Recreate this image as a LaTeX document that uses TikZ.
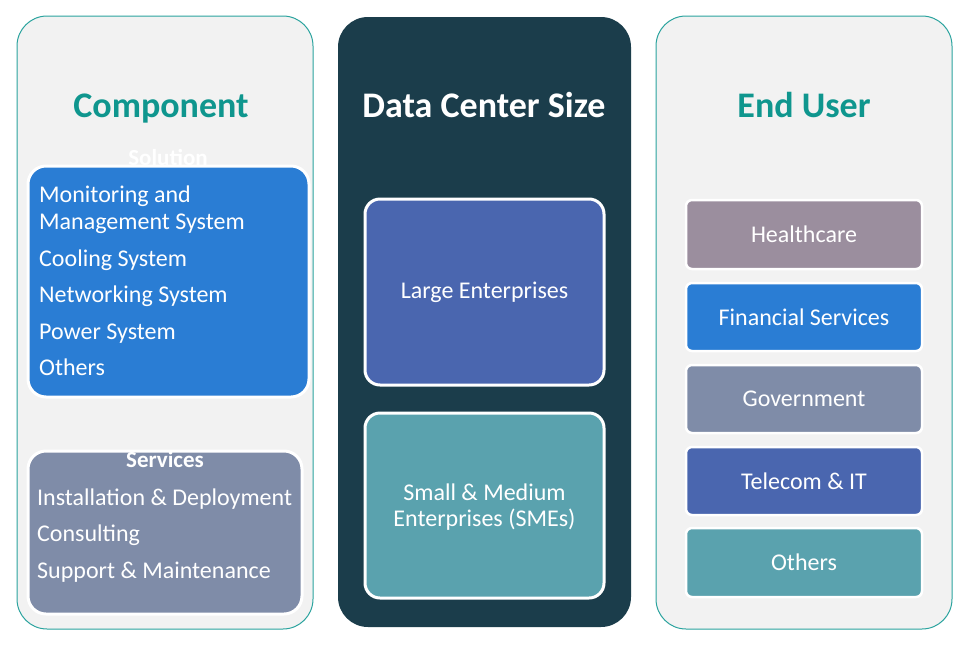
\documentclass[tikz,border=0pt]{standalone}
\usepackage{fontspec}
\setmainfont{Carlito}
\definecolor{panelbg}{HTML}{F2F2F2}
\definecolor{panelline}{HTML}{2AA39E}
\definecolor{titleteal}{HTML}{0F968E}
\definecolor{darkpanel}{HTML}{1B3D4B}
\definecolor{cblue}{HTML}{2A7DD4}
\definecolor{cgray}{HTML}{7F8CA8}
\definecolor{cindigo}{HTML}{4A66AF}
\definecolor{cteal}{HTML}{5AA2AE}
\definecolor{cmauve}{HTML}{9B8E9E}
\tikzset{
  panel/.style={draw=panelline, line width=1pt, fill=panelbg, rounded corners=30pt},
  darkp/.style={fill=darkpanel, rounded corners=30pt},
  title/.style={font=\fontsize{36}{40}\selectfont\bfseries, text=titleteal, inner sep=0pt, anchor=base},
  box/.style={draw=white, line width=3pt, rounded corners=#1},
  box/.default=18pt,
  item/.style={font=\fontsize{24}{27}\selectfont, text=white, inner sep=0pt, anchor=base west},
  label/.style={font=\fontsize{24}{26}\selectfont, text=white, align=center, inner sep=0pt},
  head/.style={font=\fontsize{23}{26}\selectfont\bfseries, text=white, inner sep=0pt, anchor=base}
}
\begin{document}
\begin{tikzpicture}[x=1pt,y=-1pt]
\useasboundingbox (0,0) rectangle (964,646);
% panels
\filldraw[panel] (17,16) rectangle (313,629);
\fill[darkp] (338,17) rectangle (631,627);
\filldraw[panel] (656,16) rectangle (952,629);
% titles
\node[title] (tcomp) at (161,117) {Component};
\node[title, text=white] (tsize) at (484,117) {Data Center Size};
\node[title] (tuser) at (804,117) {End User};
% Component: solution
\node[head] (hsol) at (168,165) {Solution};
\filldraw[box, fill=cblue] (28,166) rectangle (309,397);
\node[item] (s1) at (39,202) {Monitoring and};
\node[item] (s2) at (39,229) {Management System};
\node[item] (s3) at (39,266) {Cooling System};
\node[item] (s4) at (39,302) {Networking System};
\node[item] (s5) at (39,339) {Power System};
\node[item] (s6) at (39,375) {Others};
% Component: services
\filldraw[box, fill=cgray] (28,451) rectangle (302,614);
\node[head] (hsrv) at (165,467) {Services};
\node[item] (v1) at (37,505) {Installation \& Deployment};
\node[item] (v2) at (37,541) {Consulting};
\node[item] (v3) at (37,578) {Support \& Maintenance};
% Data center size
\filldraw[box=15pt, fill=cindigo] (365,199) rectangle (604,385);
\node[label] (large) at (484.5,292) {Large Enterprises};
\filldraw[box=15pt, fill=cteal] (365,413) rectangle (604,598);
\node[label] (sme) at (484.5,507) {Small \& Medium\\Enterprises (SMEs)};
% End user
\filldraw[box=6pt, line width=2.5pt, fill=cmauve] (686,200) rectangle (922,269);
\node[label] (u1) at (804,234.5) {Healthcare};
\filldraw[box=6pt, line width=2.5pt, fill=cblue] (686,283) rectangle (922,351);
\node[label] (u2) at (804,317) {Financial Services};
\filldraw[box=6pt, line width=2.5pt, fill=cgray] (686,365) rectangle (922,433);
\node[label] (u3) at (804,399) {Government};
\filldraw[box=6pt, line width=2.5pt, fill=cindigo] (686,447) rectangle (922,515);
\node[label] (u4) at (804,481) {Telecom \& IT};
\filldraw[box=6pt, line width=2.5pt, fill=cteal] (686,528) rectangle (922,597);
\node[label] (u5) at (804,562.5) {Others};
\end{tikzpicture}
\end{document}
